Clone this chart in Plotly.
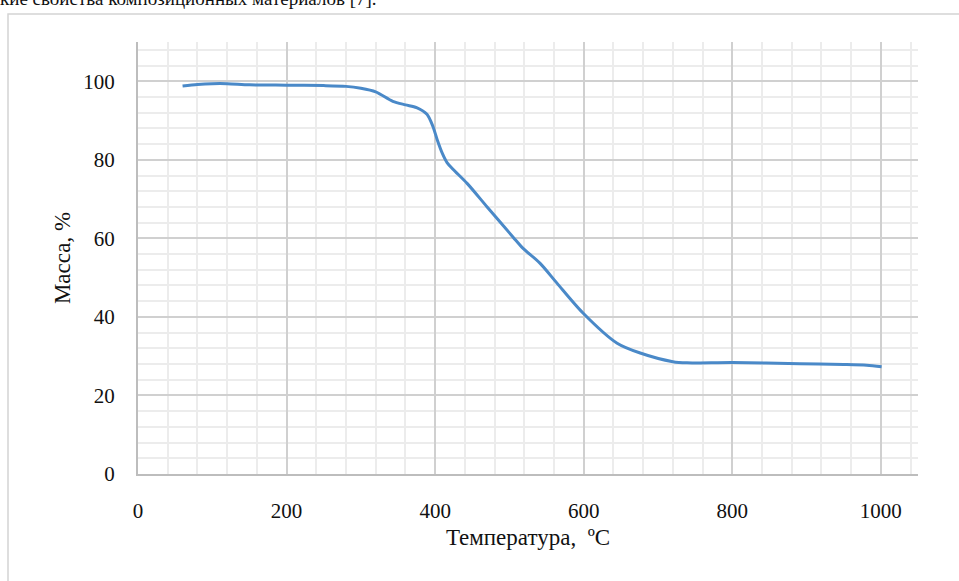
import plotly.graph_objects as go

temperature = [60, 80, 100, 120, 150, 200, 250, 280, 300, 320, 343, 360, 375, 389, 397, 403, 410, 416, 424, 443, 470, 505, 518, 541, 564, 599, 645, 676, 720, 739, 800, 891, 950, 981, 1001]
mass = [98.8, 99.2, 99.4, 99.4, 99.1, 99.0, 98.9, 98.7, 98.2, 97.3, 94.9, 94.0, 93.3, 91.6, 88.5, 85.0, 81.5, 79.3, 77.6, 74.0, 68.0, 60.3, 57.5, 53.7, 48.6, 41.0, 33.3, 30.8, 28.6, 28.3, 28.4, 28.1, 27.9, 27.7, 27.3]

x_ticks = [0, 200, 400, 600, 800, 1000]
y_ticks = [0, 20, 40, 60, 80, 100]

W, H = 959, 581
L, R, T, B = 138, 41, 42, 107
pw, ph = W - L - R, H - T - B

def px_to_paper_x(px):
    return (px - L) / pw

def px_to_paper_y(py):
    return (H - B - py) / ph

fig = go.Figure()
fig.add_trace(go.Scatter(
    x=temperature, y=mass, mode="lines",
    line=dict(color="#4a89c8", width=3, shape="spline", smoothing=0.8),
    showlegend=False, hoverinfo="skip",
))

serif = "Liberation Serif"
tickfont = dict(family=serif, size=21, color="#111111")
titlefont = dict(family=serif, size=23, color="#111111")

fig.update_layout(
    width=W, height=H,
    margin=dict(l=L, r=R, t=T, b=B, pad=0),
    paper_bgcolor="white", plot_bgcolor="white",
    font=dict(family=serif, size=21, color="#111111"),
    xaxis=dict(
        range=[0, 1050], tickvals=x_ticks, ticktext=[str(v) for v in x_ticks],
        tickfont=tickfont,
        showgrid=True, gridcolor="#d0d0d0", gridwidth=1.5,
        minor=dict(dtick=40, tick0=0, showgrid=True, gridcolor="#ececec", gridwidth=1.5),
        showline=True, linecolor="#bdbdbd", linewidth=2,
        zeroline=False, ticks="", ticklabelstandoff=17,
        title=dict(text="Температура,\u00a0 ºС", font=titlefont, standoff=7),
    ),
    yaxis=dict(
        range=[0, 110], tickvals=y_ticks, ticktext=[str(v) for v in y_ticks],
        tickfont=tickfont,
        showgrid=True, gridcolor="#d0d0d0", gridwidth=1.5,
        minor=dict(dtick=4, tick0=0, showgrid=True, gridcolor="#ececec", gridwidth=1.5),
        showline=True, linecolor="#bdbdbd", linewidth=2,
        zeroline=False, ticks="", ticklabelstandoff=17,
        title=dict(text="Масса, %", font=titlefont, standoff=6),
    ),
    shapes=[dict(
        type="rect", xref="paper", yref="paper", layer="below",
        x0=px_to_paper_x(8), x1=px_to_paper_x(975),
        y0=px_to_paper_y(600), y1=px_to_paper_y(14),
        line=dict(color="#d4d4d4", width=1.5), fillcolor="rgba(0,0,0,0)",
    )],
    annotations=[dict(
        text="кие свойства композиционных материалов [7].",
        xref="paper", yref="paper", x=px_to_paper_x(-2), y=px_to_paper_y(-2),
        xanchor="left", yanchor="middle", showarrow=False,
        font=dict(family=serif, size=19, color="#111111"),
    )],
)

fig.write_html("out.html")
